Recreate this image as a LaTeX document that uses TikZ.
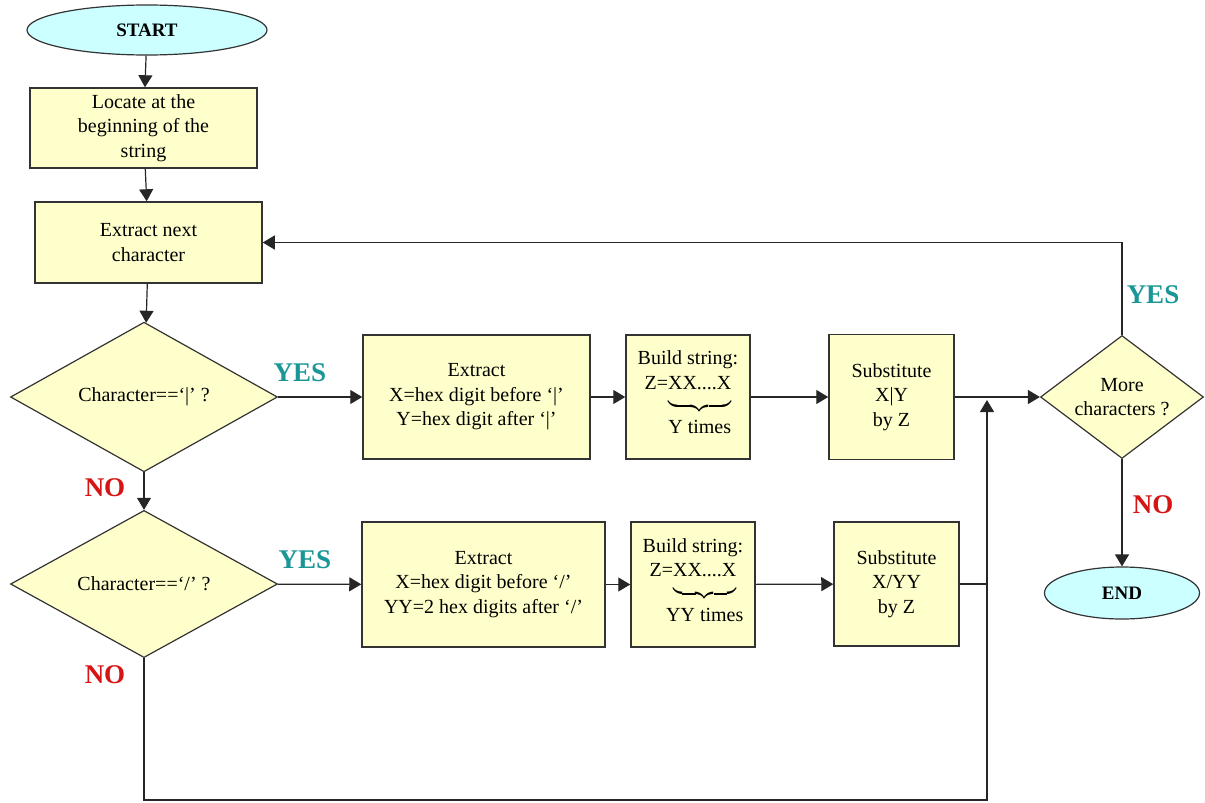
\documentclass[tikz,border=0pt]{standalone}
\usepackage{amsmath}
\usepackage{fontspec}
\setmainfont{Liberation Serif}
\usetikzlibrary{arrows.meta, positioning, shapes.geometric}

\definecolor{boxfill}{RGB}{255,255,204}
\definecolor{termfill}{RGB}{204,255,255}
\definecolor{yescol}{RGB}{26,150,150}
\definecolor{nocol}{RGB}{214,20,20}

\newcommand{\ntimes}[1]{\underbrace{\text{XX....X}\rule[-5pt]{0pt}{5pt}}_{\makebox[0pt]{\strut #1}}}

\begin{document}
\begin{tikzpicture}[
  x=0.5pt, y=-0.5pt,
  every node/.style={font=\fontsize{10}{12.2}\selectfont},
  proc/.style={draw=black!80, line width=0.75pt, fill=boxfill, align=center, inner sep=2pt},
  decision/.style={draw=black!80, line width=0.6pt, fill=boxfill, diamond, align=center, inner sep=0pt},
  terminal/.style={draw=black!80, line width=0.6pt, fill=termfill, ellipse, inner sep=0pt,
    font=\fontsize{9.5}{11}\selectfont\bfseries},
  yes/.style={text=yescol, font=\fontsize{13.5}{15}\selectfont\bfseries},
  no/.style={text=nocol, font=\fontsize{13.5}{15}\selectfont\bfseries},
  flow/.style={-{Triangle[length=6pt,width=7pt]}, line width=0.6pt, draw=black!85},
  link/.style={line width=0.6pt, draw=black!85}
]
  \useasboundingbox (0,0) rectangle (1205,803);

  % left column
  \node[terminal, minimum width=120pt, minimum height=25pt] (start) at (147,30) {START};
  \node[proc, minimum width=113.5pt, minimum height=40pt] (locate) at (143.5,128)
    {Locate at the\\ beginning of the\\ string};
  \node[proc, minimum width=113.5pt, minimum height=40.5pt] (extract) at (148.5,242.5)
    {Extract next\\ character};
  \node[decision, minimum width=133.5pt, minimum height=61pt] (bar) at (144,397)
    {Character==`|' ?};
  \node[decision, minimum width=133.5pt, minimum height=62pt] (slash) at (144,584)
    {Character==`/' ?};

  % row for '|'
  \node[proc, minimum width=113.5pt, minimum height=62pt] (xbar) at (476.5,397)
    {Extract\\ X=hex digit before `|'\\ Y=hex digit after `|'};
  \node[proc, minimum width=62pt, minimum height=62pt] (bbar) at (688,397)
    {Build string:\\ Z=$\ntimes{Y times}$};
  \node[proc, minimum width=62.5pt, minimum height=62.5pt] (sbar) at (891.5,397)
    {Substitute\\ X|Y\\ by Z};

  % row for '/'
  \node[proc, minimum width=121.5pt, minimum height=62.5pt] (xslash) at (483.5,584.5)
    {Extract\\ X=hex digit before `/'\\ YY=2 hex digits after `/'};
  \node[proc, minimum width=62pt, minimum height=62.5pt] (bslash) at (693,584.5)
    {Build string:\\ Z=$\ntimes{YY times}$};
  \node[proc, minimum width=62.5pt, minimum height=62pt] (sslash) at (896.5,584)
    {Substitute\\ X/YY\\ by Z};

  % right column
  \node[decision, aspect=1.33, minimum width=81.5pt, minimum height=61.5pt] (more) at (1122,397)
    {More\\ characters ?};
  \node[terminal, minimum width=77.5pt, minimum height=26pt] (end) at (1122,593) {END};

  \coordinate (mtop) at (987,397);
  \coordinate (mbot) at (987,800);

  % connectors
  \draw[flow] (start) -- (locate);
  \draw[flow] (locate) -- (extract);
  \draw[flow] (extract) -- (bar);
  \draw[flow] (bar) -- (slash);
  \draw[flow] (bar) -- (xbar);
  \draw[flow] (xbar) -- (bbar);
  \draw[flow] (bbar) -- (sbar);
  \draw[flow] (sbar) -- (more);
  \draw[flow] (slash) -- (xslash);
  \draw[flow] (xslash) -- (bslash);
  \draw[flow] (bslash) -- (sslash);
  \draw[link] (sslash.east) -- (sslash.east -| mtop);
  \draw[flow, shorten >=1.5pt] (slash.south) |- (mbot) -- (mtop);
  \draw[flow] (more.north) |- (extract.east);
  \draw[flow] (more) -- (end);

  % labels
  \node[yes] (yes1) at (300,373) {YES};
  \node[yes] (yes2) at (305,560) {YES};
  \node[yes] (yes3) at (1153,295) {YES};
  \node[no] (no1) at (105,488) {NO};
  \node[no] (no2) at (105,675) {NO};
  \node[no] (no3) at (1153,505) {NO};
\end{tikzpicture}
\end{document}
